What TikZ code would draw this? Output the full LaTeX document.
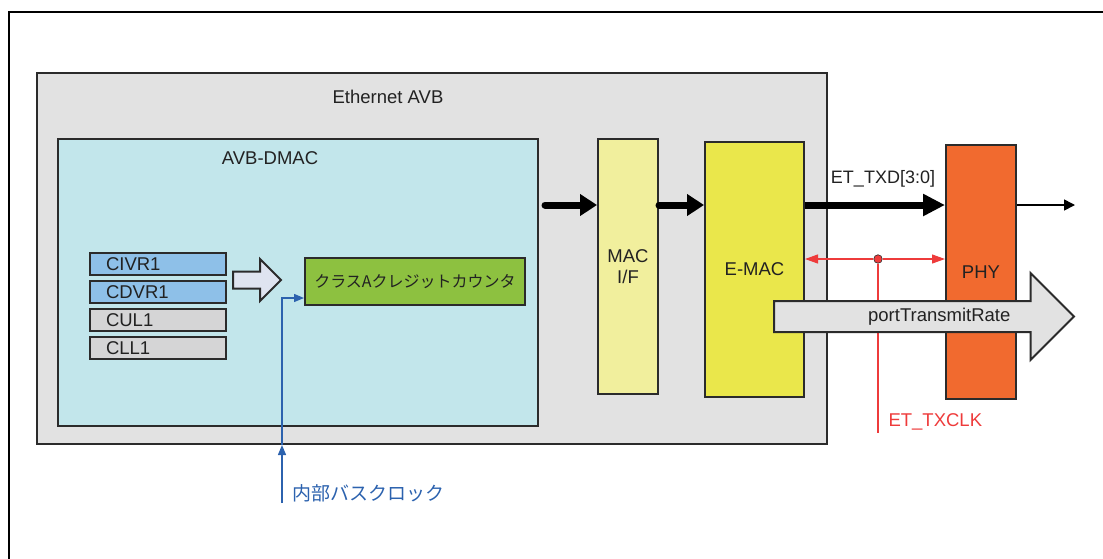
\documentclass[tikz,border=0pt]{standalone}
\usepackage{fontspec}
\setmainfont{Liberation Sans}
\newfontfamily\jpfont{Noto Sans CJK JP}
\usetikzlibrary{arrows.meta,calc,positioning,shapes.arrows}
\definecolor{edgegrey}{HTML}{2B2B2B}
\definecolor{txtgrey}{HTML}{222222}
\definecolor{ethfill}{HTML}{E2E2E2}
\definecolor{dmacfill}{HTML}{C2E6EB}
\definecolor{regblue}{HTML}{8EC0E8}
\definecolor{reggrey}{HTML}{D5D5D6}
\definecolor{cntgreen}{HTML}{8DC140}
\definecolor{shiftfill}{HTML}{DFE4F0}
\definecolor{maciffill}{HTML}{F1EF9D}
\definecolor{emacfill}{HTML}{EAE74B}
\definecolor{phyfill}{HTML}{F16A2F}
\definecolor{clkred}{HTML}{EE3B3B}
\definecolor{busblue}{HTML}{2C62AE}

\begin{document}
\begin{tikzpicture}[
  x=1pt,y=-1pt,
  font=\fontsize{18.5}{21}\selectfont,
  text=txtgrey,
  blk/.style={draw=edgegrey, line width=2pt, inner sep=0pt, anchor=north west},
  reg/.style={blk, minimum height=22pt, text width=104pt, inner xsep=16pt, align=left},
  fat/.style={single arrow, draw=edgegrey, line width=2pt, inner xsep=0pt, anchor=tail},
  bus/.style={-{Triangle[length=#1,width=21pt]}, line width=7pt, draw=black},
  bus/.default=17pt,
  sig/.style={-{Triangle[length=11pt,width=11pt]}, line width=1.6pt, draw=black},
  clkline/.style={-{Triangle[length=13pt,width=9pt]}, line width=1.2pt, draw=clkred},
  busclk/.style={-{Triangle[length=10pt,width=8pt]}, line width=1.3pt, draw=busblue},
]
\useasboundingbox (0,0) rectangle (1103,558);

% frame
\draw[line width=2pt, black] (9,560) -- (9,12) -- (1105,12);

% Ethernet AVB
\node[blk, fill=ethfill, minimum width=790pt, minimum height=371pt] (eth) at (36,72) {};
\node (ethlbl) at (388,97) {Ethernet AVB};

\node[blk, fill=dmacfill, minimum width=480pt, minimum height=287pt] (dmac) at (57,138) {};
\node (dmaclbl) at (270,158) {AVB-DMAC};

% registers
\node[reg, fill=regblue] (civr) at (89,252) {CIVR1};
\node[reg, fill=regblue, below=4pt of civr] (cdvr) {CDVR1};
\node[reg, fill=reggrey, below=4pt of cdvr] (cul) {CUL1};
\node[reg, fill=reggrey, below=4pt of cul] (cll) {CLL1};

\node[fat, fill=shiftfill, inner ysep=7.5pt, single arrow head extend=12.5pt, minimum height=48pt] (shift) at (232,280) {};

\node[blk, fill=cntgreen, minimum width=220pt, minimum height=47pt, font=\jpfont\fontsize{16}{19}\selectfont] (cnt) at (304,257) {クラスAクレジットカウンタ};

% internal bus clock
\coordinate (clk) at (282,503);
\draw[busclk] (clk) -- (clk |- eth.south);
\draw[busclk] (clk |- eth.south) |- ($(cnt.west)+(0,16.5)$);
\node[anchor=west, text=busblue, font=\jpfont\fontsize{19}{22}\selectfont] (clklbl) at (289,493) {内部バスクロック};

% MAC blocks
\node[blk, fill=maciffill, minimum width=60pt, minimum height=255pt, align=center] (macif) at (597,138) {MAC\\I/F};
\node[blk, fill=emacfill, minimum width=99pt, minimum height=255pt] (emac) at (704,141) {E-MAC};
\node[blk, fill=phyfill, minimum width=70pt, minimum height=254pt] (phy) at (945,144) {PHY};

% data path
\coordinate (busy) at (0,205);
\draw[bus, line cap=round] ($(dmac.east |- busy)+(6,0)$) -- (macif.west |- busy);
\draw[bus, line cap=round] (macif.east |- busy) -- (emac.west |- busy);
\draw[bus=22pt] (emac.east |- busy) -- (phy.west |- busy);
\node[font=\fontsize{18}{21}\selectfont] (txdlbl) at (883,179) {ET\_TXD[3:0]};
\coordinate (txdout) at (1075,205);
\draw[sig] (phy.east |- busy) -- (txdout);

% transmit clock
\node[circle, fill=clkred, draw=edgegrey, line width=0.6pt, inner sep=0pt, minimum size=8.5pt] (tap) at (878,259) {};
\draw[clkline] (tap) -- (emac.east |- tap);
\draw[clkline] (tap) -- (phy.west |- tap);
\coordinate (txclk) at (878,433);
\draw[line width=1.2pt, clkred] (tap) -- (txclk);
\node[anchor=west, text=clkred] (txclklbl) at (885,422) {ET\_TXCLK};

% rate arrow
\node[fat, fill=ethfill, inner ysep=14.5pt, single arrow head extend=28pt, minimum height=300pt,
  label={[xshift=23pt]center:portTransmitRate}] (rate) at (773,316.5) {};
\end{tikzpicture}
\end{document}
